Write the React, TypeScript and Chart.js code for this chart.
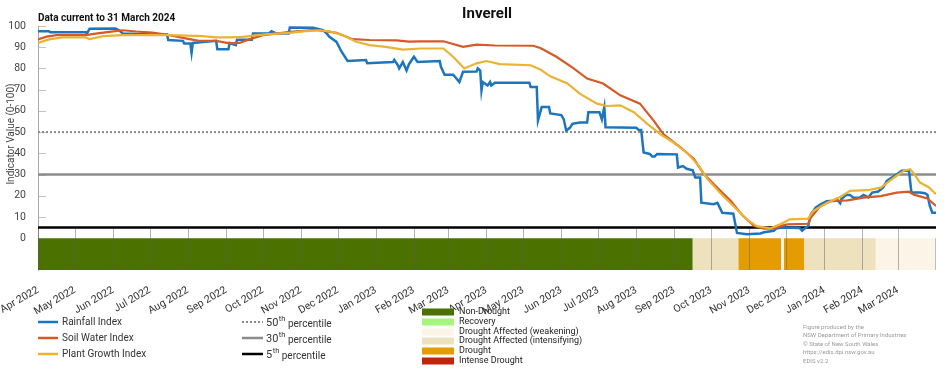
import React, { useEffect, useRef } from "react";
import { Chart, registerables } from "chart.js";

Chart.register(...registerables);

// ---------- DATA ----------
// x values are days since 1 April 2022 (last day = 31 March 2024)
const TOTAL_DAYS = 731;

const monthLabels = [
  "Apr 2022", "May 2022", "Jun 2022", "Jul 2022", "Aug 2022", "Sep 2022",
  "Oct 2022", "Nov 2022", "Dec 2022", "Jan 2023", "Feb 2023", "Mar 2023",
  "Apr 2023", "May 2023", "Jun 2023", "Jul 2023", "Aug 2023", "Sep 2023",
  "Oct 2023", "Nov 2023", "Dec 2023", "Jan 2024", "Feb 2024", "Mar 2024",
];

const yTickValues = [0, 10, 20, 30, 40, 50, 60, 70, 80, 90, 100];

const rainfallDays = [0,9,10,39,40,42,63,66,69,93,105,106,118,119,124,125,126,145,146,155,156,161,162,174,175,188,190,194,204,205,224,232,235,237,243,247,252,267,268,289,290,293,294,297,300,302,306,309,327,328,331,338,343,346,357,358,360,361,362,366,368,369,372,400,401,406,407,410,416,417,426,428,430,433,435,441,447,448,457,459,461,462,487,489,491,493,498,500,502,504,520,521,525,528,533,535,539,540,550,553,555,557,566,569,577,588,591,599,601,606,620,622,625,627,629,633,637,642,648,650,653,654,658,661,664,669,672,676,679,684,688,691,695,699,703,709,711,718,722,724,726,728,731];
const rainfallValues = [97.5,97.5,97,97,96.6,98.7,98.8,98,96.5,96,96,93.4,93,91.8,91.8,87.4,92,93,89,89,92,91,93.5,93.5,96.5,96.5,97.5,96.5,96.5,99.3,99.2,98,96.5,95,92.5,88,83.5,84,82.5,83,84,81.5,80,83,79,82,85.5,83,83.5,80.8,77,77,73.6,78.4,78.5,80,79,69.7,73.6,72,73.6,72,73.3,73.3,71.2,71.2,55.5,61.8,61.8,58.8,58,56,50.7,52,53.9,54.5,54.5,59.4,59.4,56,61.8,52.3,52,51,51,40.4,39.7,38.5,38.5,39.7,39.5,33.3,34,32.7,32,28.6,28.6,16.7,16,16.7,14.4,12,11.5,2.5,1.9,2.2,2.8,3.5,4.6,5,4.8,3.5,5,5.7,11.2,14.4,16,17.4,17.6,18.5,16.5,18.5,20.4,20.4,19,19.2,20.4,19.2,21.5,22,23.9,27,28.6,30,31.8,31.8,21.5,21.5,21.2,20.5,15.2,12,12];

const soilDays = [0,7,15,39,47,58,69,80,93,107,120,131,145,156,164,172,183,194,205,216,226,235,243,256,270,292,302,311,330,346,357,372,403,409,422,436,447,460,474,490,501,509,523,534,542,553,564,574,583,591,599,604,610,627,629,637,645,659,672,686,699,709,713,724,731];
const soilValues = [93.7,95,95.7,95.7,96.4,97.2,98,97.4,96.9,95.7,94.2,93,93,91.8,92,93.7,95.7,96.4,97.2,97.7,98.2,97.5,96.8,93.8,93.4,93.2,92.6,92.8,92.8,90.2,91.2,90.8,90.7,89.6,85.5,80,75.2,72.9,67.3,63.4,55.5,49.1,42.8,37.3,30.2,23.8,17.5,10.4,5.7,4.5,4.5,5.7,6.5,6.8,9.6,15.2,17.4,17.8,19.1,19.8,21.5,21.9,20.5,18.7,15.2];

const plantDays = [0,9,20,39,42,53,69,107,134,145,156,167,178,188,205,216,229,237,248,259,270,283,297,311,330,338,347,357,365,376,401,409,417,431,441,455,463,474,485,496,507,517,528,538,545,555,566,577,585,596,604,612,627,631,642,653,661,675,686,697,705,710,713,718,725,731];
const plantValues = [92,93.7,94.6,94.6,93.8,95.2,95.7,95.7,95.2,94.6,94.6,94.9,95.7,96.2,96.8,97.5,98,97.5,95.7,92.6,91,90.2,88.9,89.4,89.4,85.5,80,82.4,83.5,82,81.5,79.5,76.3,72.9,68.1,63.4,62.3,62.6,59.4,53.9,48.8,45.2,40.4,34.1,27.8,21.5,15.2,8.9,5.7,4.6,6.5,8.9,9.2,12.8,16.6,19.4,22.3,22.6,23.8,28.6,31.8,32.5,30.5,26.2,24,20.7];

const percentileValues = [50, 30, 5];
const percentileLabels = ["50", "30", "5"];

// Drought status band segments
const bandStarts = [0, 533, 570, 605, 607, 624, 682];
const bandEnds = [533, 570, 605, 607, 624, 682, 731];
const bandCategories = [
  "Non-Drought",
  "Drought Affected (intensifying)",
  "Drought",
  "Drought Affected (weakening)",
  "Drought",
  "Drought Affected (intensifying)",
  "Drought Affected (weakening)",
];

const droughtCategories = [
  "Non-Drought",
  "Recovery",
  "Drought Affected (weakening)",
  "Drought Affected (intensifying)",
  "Drought",
  "Intense Drought",
];

const creditLines = [
  "Figure produced by the",
  "NSW Department of Primary Industries",
  "© State of New South Wales",
  "https://edis.dpi.nsw.gov.au",
  "EDIS v2.2",
];

// ---------- STYLE ----------
const FONT = "Roboto, 'Liberation Sans', Arial, sans-serif";
const BAND_MIN = -15;
const droughtColors: Record<string, string> = {
  "Non-Drought": "#4b7100",
  "Recovery": "#a6f57c",
  "Drought Affected (weakening)": "#fdf4e8",
  "Drought Affected (intensifying)": "#eee1bd",
  "Drought": "#e59b02",
  "Intense Drought": "#c1240a",
};
const seriesStyle = [
  { label: "Rainfall Index", color: "#1b76bd", width: 2.5 },
  { label: "Soil Water Index", color: "#d65a28", width: 2.2 },
  { label: "Plant Growth Index", color: "#eab333", width: 2.2 },
];
const percentileStyle = [
  { color: "#8a8a8a", width: 2, dash: [2, 2] },
  { color: "#8c8c8c", width: 2.5, dash: [] as number[] },
  { color: "#000000", width: 2.5, dash: [] as number[] },
];

function dayOfMonthStart(i: number) {
  return Math.round((Date.UTC(2022, 3 + i, 1) - Date.UTC(2022, 3, 1)) / 86400000);
}
const monthTicks = monthLabels.map((_, i) => dayOfMonthStart(i));

function toPoints(xs: number[], ys: number[]) {
  const n = Math.min(xs.length, ys.length);
  const out: { x: number; y: number }[] = [];
  for (let i = 0; i < n; i++) out.push({ x: xs[i], y: ys[i] });
  return out;
}

const decorPlugin = {
  id: "decor",
  afterDatasetDraw(chart: any, args: any) {
    if (args.index !== 0) return;
    const ctx = chart.ctx;
    const xs = chart.scales.x;
    const ys = chart.scales.y;
    const area = chart.chartArea;
    ctx.save();
    ctx.strokeStyle = "rgba(90,90,90,0.45)";
    ctx.lineWidth = 1;
    const yTop = ys.getPixelForValue(5);
    const yBot = ys.getPixelForValue(BAND_MIN);
    monthTicks.forEach((d) => {
      const x = Math.round(xs.getPixelForValue(d)) + 0.5;
      ctx.beginPath();
      ctx.moveTo(x, yTop);
      ctx.lineTo(x, yBot);
      ctx.stroke();
    });
    ctx.strokeStyle = "#bdbdbd";
    ctx.beginPath();
    ctx.moveTo(area.right - 0.5, ys.getPixelForValue(0));
    ctx.lineTo(area.right - 0.5, yBot);
    ctx.stroke();
    ctx.strokeStyle = "#c4c4c4";
    yTickValues.forEach((v) => {
      if (v === 0) return;
      const y = Math.round(ys.getPixelForValue(v)) + 0.5;
      ctx.beginPath();
      ctx.moveTo(area.left + 1, y);
      ctx.lineTo(area.left + 8, y);
      ctx.stroke();
    });
    ctx.restore();
  },
  afterDraw(chart: any) {
    const ctx = chart.ctx;
    const area = chart.chartArea;
    ctx.save();
    ctx.fillStyle = "#111";
    ctx.textBaseline = "middle";
    ctx.font = `bold 15px ${FONT}`;
    ctx.textAlign = "center";
    ctx.fillText("Inverell", (area.left + area.right) / 2, 14);
    ctx.font = `bold 10px ${FONT}`;
    ctx.textAlign = "left";
    ctx.fillText("Data current to 31 March 2024", 38, 18);

    ctx.save();
    ctx.translate(11, 134);
    ctx.rotate(-Math.PI / 2);
    ctx.font = `10px ${FONT}`;
    ctx.fillStyle = "#444";
    ctx.textAlign = "center";
    ctx.fillText("Indicator Value (0-100)", 0, 0);
    ctx.restore();

    const rowY = [322, 338, 354];
    ctx.font = `10px ${FONT}`;
    ctx.fillStyle = "#333";
    seriesStyle.forEach((s, i) => {
      ctx.strokeStyle = s.color;
      ctx.lineWidth = 2.5;
      ctx.setLineDash([]);
      ctx.beginPath();
      ctx.moveTo(38, rowY[i]);
      ctx.lineTo(58, rowY[i]);
      ctx.stroke();
      ctx.fillStyle = "#333";
      ctx.font = `10px ${FONT}`;
      ctx.fillText(s.label, 62, rowY[i]);
    });

    percentileLabels.forEach((lab, i) => {
      const st = percentileStyle[i];
      ctx.strokeStyle = st.color;
      ctx.lineWidth = st.width;
      ctx.setLineDash(st.dash);
      ctx.beginPath();
      ctx.moveTo(242, rowY[i]);
      ctx.lineTo(263, rowY[i]);
      ctx.stroke();
      ctx.setLineDash([]);
      ctx.fillStyle = "#333";
      ctx.font = `11px ${FONT}`;
      let x = 266;
      ctx.fillText(lab, x, rowY[i] + 1);
      x += ctx.measureText(lab).width;
      ctx.font = `7.5px ${FONT}`;
      ctx.fillText("th", x + 0.5, rowY[i] - 3);
      x += ctx.measureText("th").width + 0.5;
      ctx.font = `10px ${FONT}`;
      ctx.fillText(" percentile", x, rowY[i] + 2);
    });

    const dRows = [312, 322, 332, 341, 351, 361];
    droughtCategories.forEach((c, i) => {
      ctx.fillStyle = droughtColors[c];
      ctx.fillRect(422, dRows[i] - 3.5, 32, 7);
      ctx.fillStyle = "#222";
      ctx.font = `9px ${FONT}`;
      ctx.fillText(c, 459, dRows[i]);
    });

    ctx.fillStyle = "#9a9a9a";
    ctx.font = `6px ${FONT}`;
    const cRows = [327, 335.5, 344, 352.5, 361];
    creditLines.forEach((t, i) => ctx.fillText(t, 803, cRows[i]));
    ctx.restore();
  },
};

export default function App() {
  const ref = useRef<HTMLCanvasElement | null>(null);
  useEffect(() => {
    document.body.style.margin = "0";
    const canvas = ref.current;
    if (!canvas) return;

    const bandSets = bandStarts.map((s, i) => ({
      label: bandCategories[i],
      data: [
        { x: s, y: 0 },
        { x: bandEnds[i], y: 0 },
      ],
      borderWidth: 0,
      borderColor: "rgba(0,0,0,0)",
      backgroundColor: droughtColors[bandCategories[i]],
      fill: { value: BAND_MIN },
      pointRadius: 0,
      order: 3,
    }));

    const pctSets = percentileValues.map((v, i) => ({
      label: percentileLabels[i],
      data: [
        { x: 0, y: v },
        { x: TOTAL_DAYS, y: v },
      ],
      borderColor: percentileStyle[i].color,
      borderWidth: percentileStyle[i].width,
      borderDash: percentileStyle[i].dash,
      pointRadius: 0,
      fill: false,
      order: 2,
    }));

    const seriesData = [
      toPoints(rainfallDays, rainfallValues),
      toPoints(soilDays, soilValues),
      toPoints(plantDays, plantValues),
    ];
    const lineSets = seriesStyle.map((s, i) => ({
      label: s.label,
      data: seriesData[i],
      borderColor: s.color,
      borderWidth: s.width,
      pointRadius: 0,
      tension: 0,
      fill: false,
      order: 1 - i * 0.1,
    })).reverse();

    const chart = new Chart(canvas, {
      type: "line",
      data: { datasets: [...bandSets, ...pctSets, ...lineSets] as any },
      options: {
        responsive: false,
        animation: false,
        events: [],
        layout: { padding: { top: 26, right: 16, left: 0, bottom: 0 } },
        plugins: {
          legend: { display: false },
          tooltip: { enabled: false },
          title: { display: false },
        },
        scales: {
          x: {
            type: "linear",
            min: 0,
            max: TOTAL_DAYS,
            grid: { display: false },
            border: { display: false },
            afterBuildTicks: (s: any) => {
              s.ticks = monthTicks.map((v) => ({ value: v }));
            },
            afterFit: (s: any) => {
              s.height = 100;
              s.paddingLeft = 0;
              s.paddingRight = 0;
            },
            ticks: {
              autoSkip: false,
              minRotation: 30,
              maxRotation: 30,
              padding: 6,
              color: "#333",
              font: { family: FONT, size: 10.5 },
              callback: (v: any) => {
                const idx = monthTicks.indexOf(Number(v));
                return idx >= 0 ? monthLabels[idx] : "";
              },
            },
          },
          y: {
            min: BAND_MIN,
            max: 100,
            afterBuildTicks: (s: any) => {
              s.ticks = yTickValues.map((v) => ({ value: v }));
            },
            afterFit: (s: any) => {
              s.width = 38;
              s.paddingTop = 0;
              s.paddingBottom = 0;
            },
            grid: { display: false },
            border: { display: true, color: "#a8a8a8", width: 1 },
            ticks: {
              padding: 4,
              color: "#444",
              font: { family: FONT, size: 10.5 },
            },
          },
        },
      } as any,
      plugins: [decorPlugin],
    });
    return () => chart.destroy();
  }, []);

  return (
    <div style={{ position: "absolute", left: 0, top: 0, width: 952, height: 370, background: "#fff" }}>
      <canvas ref={ref} width={952} height={370} style={{ display: "block" }} />
    </div>
  );
}
